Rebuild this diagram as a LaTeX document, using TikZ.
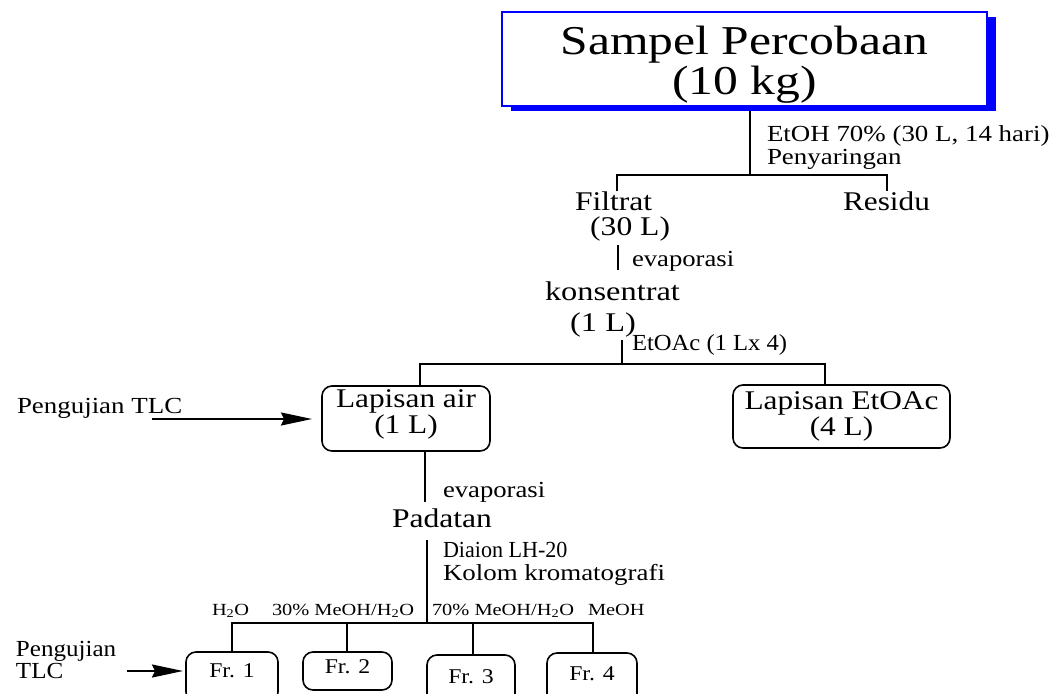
\documentclass[tikz,border=0pt]{standalone}
\usepackage{fontspec}
\setmainfont{Liberation Serif}
\usetikzlibrary{arrows.meta,shadows}
\newcommand\ST[3]{{\fontsize{#1}{#1}\selectfont\scalebox{#2}[1]{#3}}}
\newcommand\SLL[4]{{\fontsize{#1}{#2}\selectfont\scalebox{#3}[1]{\begin{tabular}[t]{@{}l@{}}#4\end{tabular}}}}
\newcommand\SLC[4]{{\fontsize{#1}{#2}\selectfont\scalebox{#3}[1]{\begin{tabular}[t]{@{}c@{}}#4\end{tabular}}}}
\tikzset{
  ln/.style={line width=1.9pt},
  txt/.style={inner sep=0pt,outer sep=0pt,anchor=base west},
  rbox/.style={draw,line width=1.6pt,rounded corners=10pt,inner sep=0pt,outer sep=0pt,text height=0pt},
  arr/.style={line width=1.9pt,-{Stealth[length=31pt,width=13pt,inset=3pt]}},
  small/.style={txt},
}
\begin{document}
\begin{tikzpicture}[x=1pt,y=-1pt]
\path[use as bounding box] (0,0) rectangle (1056,693);
\clip (0,0) rectangle (1056,693);
% top box
\node[draw=blue,line width=2pt,fill=white,minimum width=485pt,minimum height=94pt,
  inner sep=0pt,outer sep=0pt,text height=0pt,text depth=8pt,
  drop shadow={shadow xshift=9pt,shadow yshift=-5pt,fill=blue,opacity=1}]
  (top) at (744.5,59) {\SLC{41}{37}{1.21}{Sampel Percobaan\\(10 kg)}};
\node[txt] (l1) at (767,141) {\SLL{23}{23}{1.17}{EtOH 70\% (30 L, 14 hari)\\Penyaringan}};
\node[txt] (filt) at (575,210) {\SLL{27}{24}{1.17}{Filtrat\\\hspace{13pt}(30 L)}};
\node[txt] (res) at (843,210) {\ST{27}{1.16}{Residu}};
\node[txt] (ev1) at (632,266) {\ST{23}{1.16}{evaporasi}};
\node[txt] (kons) at (545,300) {\SLL{27}{31}{1.2}{konsentrat\\\hspace{21pt}(1 L)}};
\node[txt] (l2) at (632,350) {\ST{23}{1.07}{EtOAc (1 Lx 4)}};
\node[rbox,minimum width=168pt,minimum height=65pt,text depth=23pt] (air) at (406,418.5)
  {\SLC{27}{26}{1.16}{Lapisan air\\(1 L)}};
\node[rbox,minimum width=217pt,minimum height=63pt,text depth=15pt] (ea) at (841.5,416.5)
  {\SLC{27}{26}{1.16}{Lapisan EtOAc\\(4 L)}};
\node[txt] (tlc1) at (17,413) {\ST{23}{1.17}{Pengujian TLC}};
\node[txt] (ev2) at (443,497) {\ST{23}{1.16}{evaporasi}};
\node[txt] (pad) at (392,527) {\ST{27}{1.17}{Padatan}};
\node[txt] (l3) at (443,557) {\fontsize{23}{23}\selectfont\begin{tabular}[t]{@{}l@{}}\scalebox{0.96}[1]{Diaion LH-20}\\\scalebox{1.17}[1]{Kolom kromatografi}\end{tabular}};
% bottom labels
\node[small] (s1) at (212,615) {\ST{17}{1.2}{H\textsubscript{2}O}};
\node[small] (s2) at (272,615) {\ST{17}{1.2}{30\% MeOH/H\textsubscript{2}O}};
\node[small] (s3) at (432,615) {\ST{17}{1.2}{70\% MeOH/H\textsubscript{2}O}};
\node[small] (s4) at (588,615) {\ST{17}{1.2}{MeOH}};
% fraction boxes
\node[rbox,minimum width=92pt,minimum height=50pt,text depth=0pt] (f1) at (232,677) {\ST{21}{1.13}{Fr. 1}};
\node[rbox,minimum width=89pt,minimum height=38pt,text height=4pt,text depth=0pt] (f2) at (347.5,671) {\ST{21}{1.13}{Fr. 2}};
\node[rbox,minimum width=88pt,minimum height=56pt,text depth=0pt] (f3) at (471,683) {\ST{21}{1.13}{Fr. 3}};
\node[rbox,minimum width=90pt,minimum height=54pt,text depth=0pt] (f4) at (592,680) {\ST{21}{1.13}{Fr. 4}};
\node[txt] (tlc2) at (16,656) {\SLL{23}{22}{1.09}{Pengujian\\TLC}};
% connectors
\coordinate (j1) at (750,175);
\coordinate (b1l) at (617,175);
\coordinate (b1r) at (887,175);
\draw[ln,shorten <=5pt] (top.south -| j1) -- (j1);
\draw[ln] (filt.north -| b1l) -- (b1l) -- (b1r) -- (res.north -| b1r);
\coordinate (x2) at (618,0);
\draw[ln,shorten <=2pt,shorten >=8pt] (filt.south -| x2) -- (kons.north -| x2);
\coordinate (x3) at (622,0);
\coordinate (b2l) at (420,364);
\coordinate (b2r) at (825,364);
\draw[ln] (kons.south -| x3) -- (x3 |- b2l);
\draw[ln] (air.north -| b2l) -- (b2l) -- (b2r) -- (ea.north -| b2r);
\coordinate (x4) at (425,0);
\draw[ln,shorten >=6pt] (air.south -| x4) -- (pad.north -| x4);
\coordinate (x5) at (427,0);
\coordinate (b3l) at (232,623);
\coordinate (b3r) at (593,623);
\draw[ln,shorten <=13pt] (pad.south -| x5) -- (x5 |- b3l);
\draw[ln] (f1.north -| b3l) -- (b3l) -- (b3r) -- (f4.north -| b3r);
\coordinate (x6) at (347,0);
\coordinate (x7) at (473,0);
\draw[ln] (f2.north -| x6) -- (x6 |- b3l);
\draw[ln] (f3.north -| x7) -- (x7 |- b3l);
% arrows
\coordinate (a1) at (152,419);
\draw[arr,shorten >=10pt] (a1) -- (a1 -| air.west);
\coordinate (a2) at (127,671);
\draw[arr,shorten >=3pt] (a2) -- (a2 -| f1.west);
\end{tikzpicture}
\end{document}
